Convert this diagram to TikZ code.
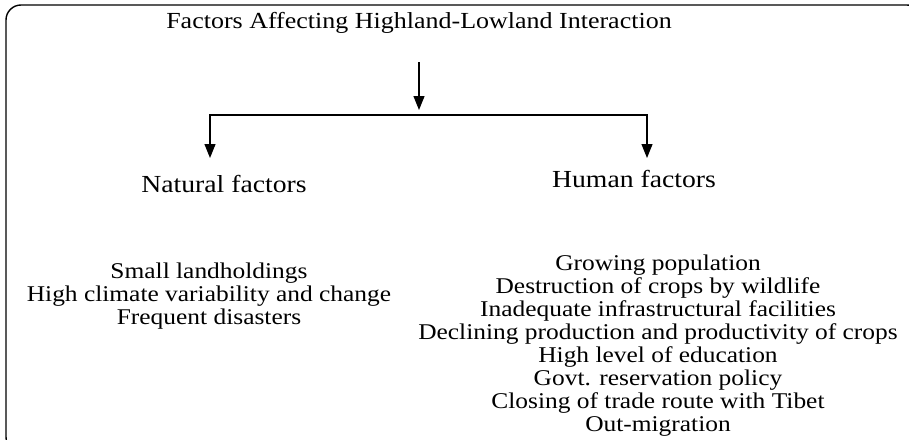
\documentclass[tikz,border=0pt]{standalone}
\usepackage{fontspec}
\setmainfont{Liberation Serif}[FakeStretch=1.13]
\usetikzlibrary{arrows.meta}
\begin{document}
\begin{tikzpicture}[x=1pt,y=-1pt,
  arr/.style={line width=1.2pt,-{Triangle[length=14pt,width=11pt]}},
  titletext/.style={font=\fontsize{23}{26}\selectfont, inner sep=0pt},
  headtext/.style={font=\fontsize{24.5}{28}\selectfont, inner sep=0pt},
  listtext/.style={font=\fontsize{22.5}{23}\selectfont, inner sep=0pt, align=center}]
\useasboundingbox (0,0) rectangle (909,439);
\begin{scope}
\clip (0,0) rectangle (909,439);
\draw[line width=1.4pt, rounded corners=15pt] (6,5) rectangle (922,452);
\end{scope}
\node[titletext] (title) at (419,23) {Factors Affecting Highland-Lowland Interaction};
\coordinate (a1) at (419,62);
\coordinate (a2) at (419,110);
\coordinate (mid) at (419,115);
\coordinate (lt) at (210,158);
\coordinate (rt) at (647,158);
\draw[arr] (a1) -- (a2);
\draw[arr] (mid) -| (lt);
\draw[arr] (mid) -| (rt);
\node[headtext] (nat) at (224,184) {Natural factors};
\node[headtext] (hum) at (634,179) {Human factors};
\node[listtext] (natlist) at (209,296) {Small landholdings\\High climate variability and change\\Frequent disasters};
\node[listtext] (humlist) at (658,346) {Growing population\\Destruction of crops by wildlife\\Inadequate infrastructural facilities\\Declining production and productivity of crops\\High level of education\\Govt. reservation policy\\Closing of trade route with Tibet\\Out-migration};
\end{tikzpicture}
\end{document}
